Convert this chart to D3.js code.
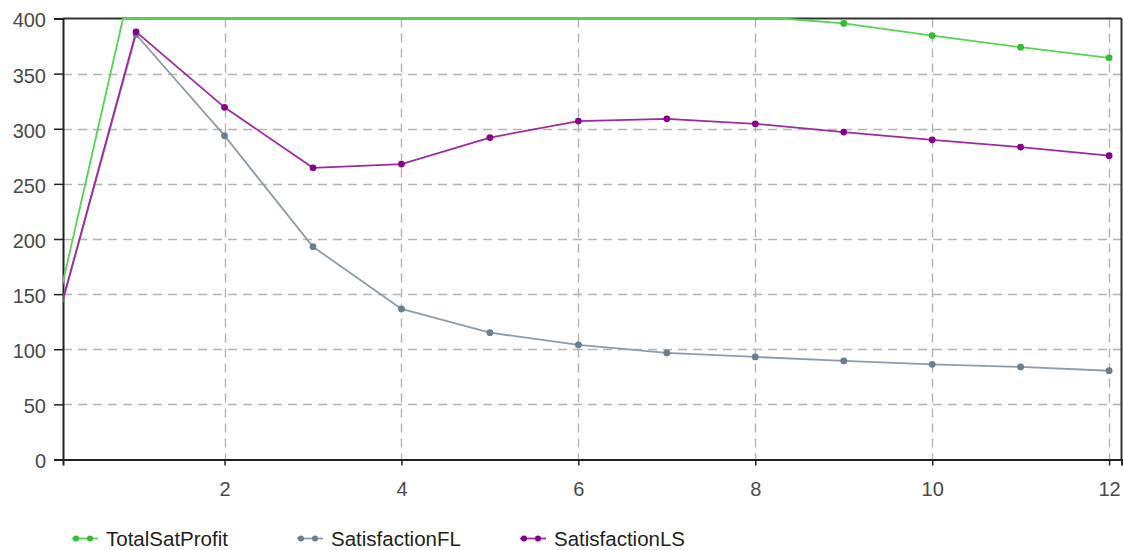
<!DOCTYPE html>
<html>
<head>
<meta charset="utf-8">
<script src="https://cdn.jsdelivr.net/npm/d3@7"></script>
<style>
  html, body { margin: 0; padding: 0; background: #fff; }
  svg { display: block; }
  text { font-family: "Liberation Sans", Arial, sans-serif; }
</style>
</head>
<body>
<svg id="chart" width="1123" height="550"></svg>
<script>
const xValues = [0, 1, 2, 3, 4, 5, 6, 7, 8, 9, 10, 11, 12];
const totalSatProfit = [100, 452, 445, 435, 428, 420, 414, 408, 402, 395.5, 384.5, 374, 364.3];
const satisfactionFL = [94, 385.5, 293.7, 193, 136.6, 115, 104, 96.7, 93, 89.4, 86.3, 84, 80.5];
const satisfactionLS = [94, 387.9, 319.4, 264.6, 268, 292, 307, 309, 304.5, 297, 290, 283.4, 275.6];
const seriesNames = ["TotalSatProfit", "SatisfactionFL", "SatisfactionLS"];
const xTicks = [2, 4, 6, 8, 10, 12];
const yTicks = [0, 50, 100, 150, 200, 250, 300, 350, 400];

const series = [
  { name: seriesNames[0], values: totalSatProfit, line: "#55d455", dot: "#2fbf2f" },
  { name: seriesNames[1], values: satisfactionFL, line: "#8d9cab", dot: "#6a7e8e" },
  { name: seriesNames[2], values: satisfactionLS, line: "#a02aa0", dot: "#880088" }
];

const svg = d3.select("#chart");
const L = 63, R = 1121.5, T = 18.5, B = 459.5;

const x = d3.scaleLinear().domain([0.174, 12.14]).range([L, R]);
const y = d3.scaleLinear().domain([0, 400]).range([B, T]);
const yMax = 400;

svg.append("defs").append("clipPath").attr("id", "clip")
  .append("rect").attr("x", L).attr("y", T - 4).attr("width", R - L).attr("height", B - T + 8);

// grid
const grid = svg.append("g");
grid.selectAll("line.h").data(yTicks.filter(d => d > 0 && d < 400)).enter().append("line")
  .attr("x1", L).attr("x2", R).attr("y1", d => Math.round(y(d)) + 0.5).attr("y2", d => Math.round(y(d)) + 0.5)
  .attr("stroke", "#b4b4b4").attr("stroke-width", 1.4).attr("stroke-dasharray", "9,6");
grid.selectAll("line.v").data(xTicks).enter().append("line")
  .attr("y1", T).attr("y2", B).attr("x1", d => Math.round(x(d)) + 0.5).attr("x2", d => Math.round(x(d)) + 0.5)
  .attr("stroke", "#b4b4b4").attr("stroke-width", 1.4).attr("stroke-dasharray", "9,6");

// border top/right
svg.append("line").attr("x1", L).attr("x2", R).attr("y1", T).attr("y2", T).attr("stroke", "#333").attr("stroke-width", 2);
svg.append("line").attr("x1", R).attr("x2", R).attr("y1", T).attr("y2", B).attr("stroke", "#333").attr("stroke-width", 2);

// axes
const yAxis = svg.append("g").attr("transform", `translate(${L},0)`)
  .call(d3.axisLeft(y).tickValues(yTicks).tickSize(9).tickPadding(8));
const xAxis = svg.append("g").attr("transform", `translate(0,${B})`)
  .call(d3.axisBottom(x).tickValues(xTicks).tickSize(6).tickPadding(16));
[yAxis, xAxis].forEach(a => {
  a.select(".domain").attr("stroke", "#222").attr("stroke-width", 2);
  a.selectAll(".tick line").attr("stroke", "#222").attr("stroke-width", 1.5);
  a.selectAll(".tick text").style("font-family", "Liberation Sans, Arial, sans-serif")
    .style("font-size", "20px").attr("fill", "#4a4a4a");
});
yAxis.selectAll(".tick text").attr("dy", "0.42em");

// lines: values above the top of the scale are drawn along the top edge
function clampedPoints(vals) {
  const pts = [];
  for (let i = 0; i < vals.length; i++) {
    const v = vals[i], xv = xValues[i];
    if (i > 0) {
      const pv = vals[i - 1], px = xValues[i - 1];
      if ((pv - yMax) * (v - yMax) < 0) {
        const t = (yMax - pv) / (v - pv);
        pts.push([px + t * (xv - px), yMax]);
      }
    }
    pts.push([xv, Math.min(v, yMax)]);
  }
  return pts;
}
const plot = svg.append("g").attr("clip-path", "url(#clip)");
const lineGen = d3.line().x(d => x(d[0])).y(d => y(d[1]));
series.forEach(s => {
  plot.append("path").datum(clampedPoints(s.values)).attr("fill", "none")
    .attr("stroke", s.line).attr("stroke-width", 1.8).attr("d", lineGen);
});
series.forEach(s => {
  plot.selectAll(null).data(s.values.map((v, i) => [xValues[i], v]).filter(d => d[1] <= yMax))
    .enter().append("circle")
    .attr("cx", d => x(d[0])).attr("cy", d => y(d[1])).attr("r", 3.4)
    .attr("fill", s.dot);
});

// legend
const legendX = [72, 297, 520];
const legend = svg.append("g");
series.forEach((s, i) => {
  const g = legend.append("g").attr("transform", `translate(${legendX[i]},538.5)`);
  g.append("line").attr("x1", 0).attr("x2", 26).attr("y1", 0).attr("y2", 0)
    .attr("stroke", s.line).attr("stroke-width", 1.8);
  g.append("circle").attr("cx", 4).attr("cy", 0).attr("r", 3).attr("fill", s.dot);
  g.append("circle").attr("cx", 18).attr("cy", 0).attr("r", 3).attr("fill", s.dot);
  g.append("text").attr("x", 34).attr("y", 0).attr("dy", "0.36em")
    .style("font-size", "20.5px").attr("fill", "#222").text(s.name);
});
</script>
</body>
</html>
